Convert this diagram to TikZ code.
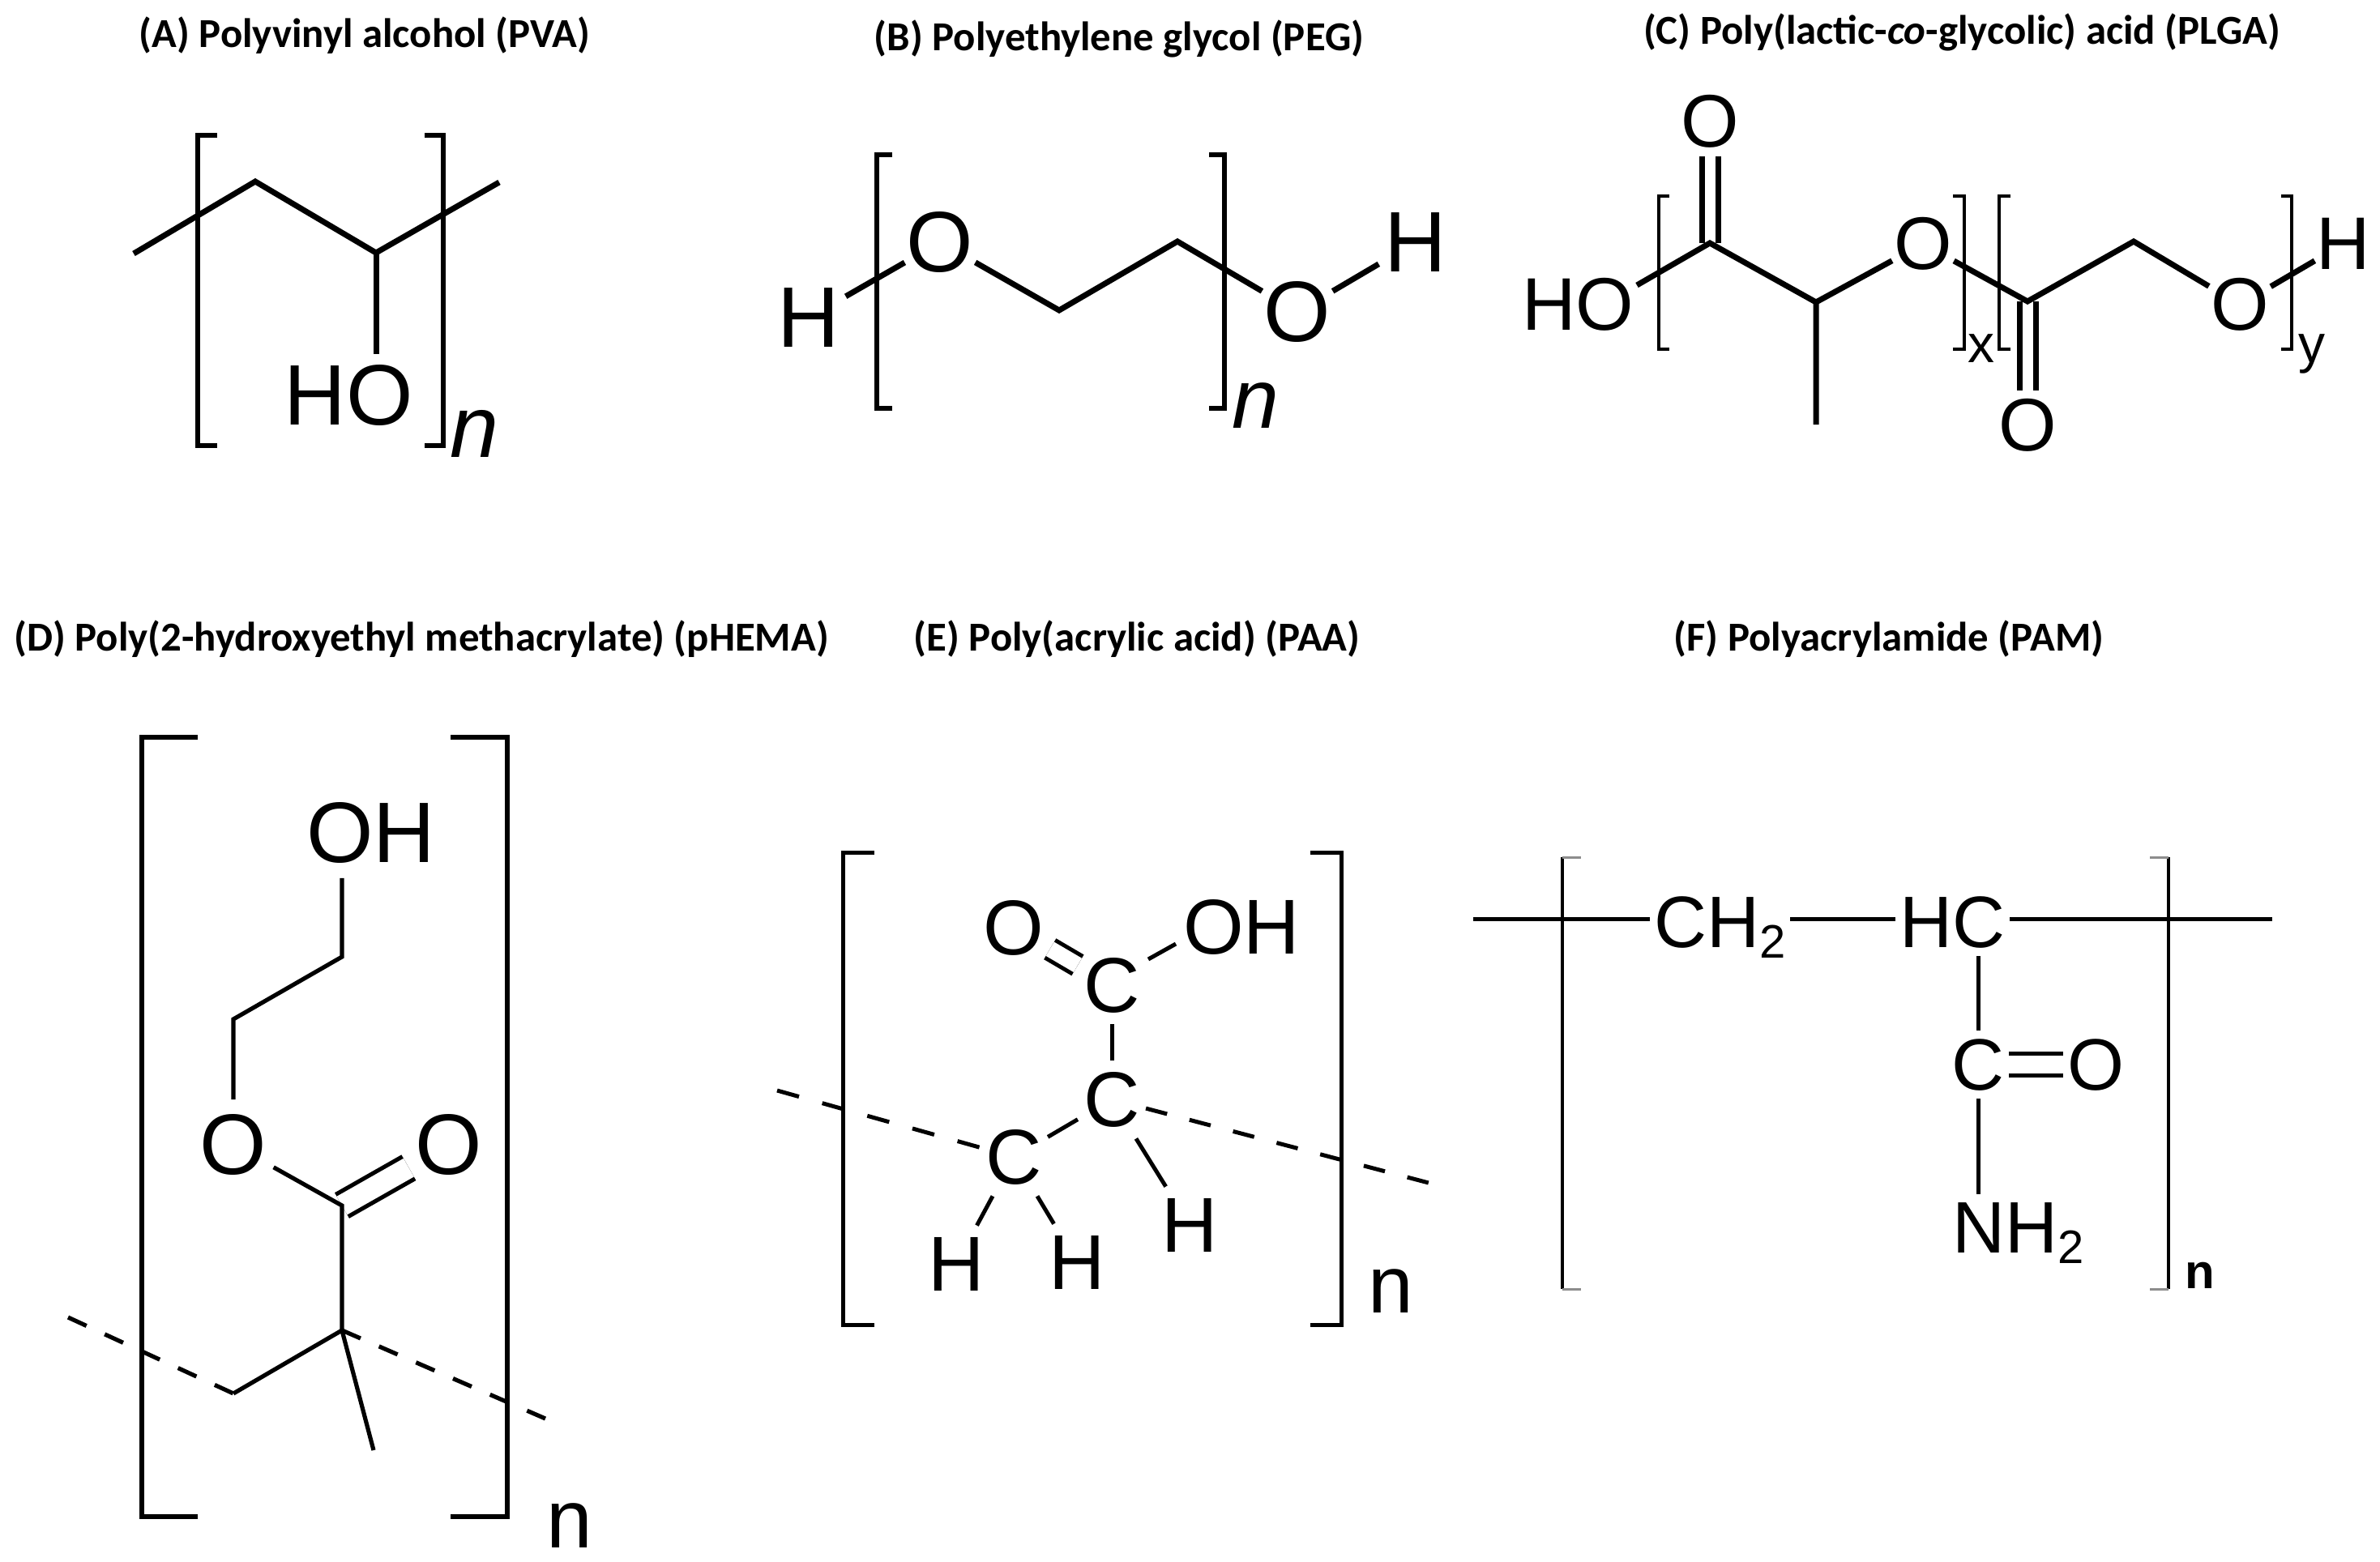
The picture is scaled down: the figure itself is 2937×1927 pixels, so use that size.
\documentclass[tikz,border=0pt]{standalone}
\usepackage{fontspec}
\setmainfont{Liberation Sans}
\newfontfamily\ttlfont{Carlito}
\newcommand{\subnum}[1]{\raisebox{-6.5pt}{\fontsize{29}{29}\selectfont #1}}

\begin{document}
\begin{tikzpicture}[x=0.5pt,y=-0.5pt,
  ttl/.style={inner sep=0pt,font=\ttlfont\bfseries\fontsize{25.4}{25.4}\selectfont},
  bond/.style={line width=3.5pt},
  dbl/.style={bond,double,double distance=6.5pt},
  brk/.style={line width=3pt},
  dash bond/.style={bond,dash pattern=on 12.5pt off 12.4pt},
  atom/.style={inner xsep=1pt,inner ysep=5pt},
  idx/.style={inner sep=0pt,anchor=base}]
\useasboundingbox (0,0) rectangle (2937,1927);

% The six headings
\node[ttl] (ttlA) at (450,44) {(A) Polyvinyl alcohol (PVA)};
\node[ttl] (ttlB) at (1381,48) {(B) Polyethylene glycol (PEG)};
\node[ttl] (ttlC) at (2421,40) {(C) Poly(lactic-\textit{co}-glycolic) acid (PLGA)};
\node[ttl] (ttlD) at (520,789) {(D) Poly(2-hydroxyethyl methacrylate) (pHEMA)};
\node[ttl] (ttlE) at (1403,789) {(E) Poly(acrylic acid) (PAA)};
\node[ttl] (ttlF) at (2331,789) {(F) Polyacrylamide (PAM)};

% PVA
\begin{scope}[atom/.append style={font=\fontsize{53}{53}\selectfont}]
\draw[brk] (268,167) -- (244,167) -- (244,550) -- (268,550);
\draw[brk] (524,167) -- (547,167) -- (547,550) -- (524,550);
\coordinate (a1) at (165,313);
\coordinate (a2) at (315,224);
\coordinate (a3) at (464,312);
\coordinate (a4) at (616,225);
\node[atom,inner ysep=6.5pt] (HOa) at (430,488) {HO};
\draw[bond] (a1) -- (a2) -- (a3) -- (a4);
\draw[bond] (a3) -- (a3 |- HOa.north);
\node[idx,font=\itshape\fontsize{54}{54}\selectfont] (na) at (586,564) {n};
\end{scope}

% PEG
\begin{scope}[atom/.append style={font=\fontsize{53}{53}\selectfont}]
\draw[brk] (1101,191) -- (1082,191) -- (1082,504) -- (1101,504);
\draw[brk] (1492,191) -- (1511,191) -- (1511,504) -- (1492,504);
\coordinate (b1) at (1307,383);
\coordinate (b2) at (1453,298);
\node[atom,inner xsep=3.5pt] (Hb1) at (998,392) {H};
\node[atom] (Ob1) at (1160,299) {O};
\node[atom] (Ob2) at (1601,385) {O};
\node[atom,inner xsep=3.5pt] (Hb2) at (1747,299) {H};
\draw[bond] (Hb1) -- (Ob1);
\draw[bond] (Ob1) -- (b1) -- (b2) -- (Ob2);
\draw[bond] (Ob2) -- (Hb2);
\node[idx,font=\itshape\fontsize{52}{52}\selectfont] (nb) at (1549,528) {n};
\end{scope}

% PLGA
\begin{scope}[atom/.append style={font=\fontsize{46}{46}\selectfont,inner xsep=1pt}]
\draw[brk,line width=2pt] (2060,242) -- (2047,242) -- (2047,431) -- (2060,431);
\draw[brk,line width=2pt] (2410,242) -- (2424,242) -- (2424,431) -- (2410,431);
\draw[brk,line width=2pt] (2481,242) -- (2467,242) -- (2467,431) -- (2481,431);
\draw[brk,line width=2pt] (2815,242) -- (2828,242) -- (2828,431) -- (2815,431);
\coordinate (c1) at (2110,300);
\coordinate (c2) at (2241,373);
\coordinate (c3) at (2241,524);
\coordinate (c4) at (2502,372);
\coordinate (c5) at (2633,298);
\coordinate (c6) at (2020,352);
\node[atom] (Oc1) at (2110,150) {O};
\node[atom] (HOc) at (1947,376) {HO};
\node[atom] (Oc2) at (2373,301) {O};
\node[atom] (Oc3) at (2764,376) {O};
\node[atom] (Oc4) at (2502,525) {O};
\node[atom] (Hc) at (2892,301) {H};
\draw[dbl] (Oc1) -- (c1);
\draw[dbl] (c4) -- (Oc4);
\draw[bond] (c6) -- (c1) -- (c2) -- (c3);
\draw[bond] (c2) -- (Oc2);
\draw[bond] (Oc2) -- (c4) -- (c5) -- (Oc3);
\draw[bond] (Oc3) -- (Hc);
\node[idx,font=\fontsize{33}{33}\selectfont] (xc) at (2445,447) {x};
\node[idx,font=\fontsize{33}{33}\selectfont] (yc) at (2853,447) {y};
\end{scope}

% pHEMA
\begin{scope}[bond/.append style={line width=2.6pt},
  dbl/.append style={line width=2.6pt,double distance=13pt},
  atom/.append style={font=\fontsize{53}{53}\selectfont,inner xsep=4pt,inner ysep=9pt}]
\draw[brk,line width=2.6pt] (244,910) -- (175,910) -- (175,1872) -- (244,1872);
\draw[brk,line width=2.6pt] (556,910) -- (626,910) -- (626,1872) -- (556,1872);
\coordinate (d2) at (422,1181);
\coordinate (d3) at (288,1258);
\coordinate (d5) at (422,1488);
\coordinate (d6) at (422,1642);
\coordinate (d7) at (288,1720);
\coordinate (d8) at (461,1790);
\coordinate (d9) at (84,1626);
\coordinate (d10) at (673,1751);
\node[atom] (OHd) at (458,1028) {OH};
\node[atom] (Od1) at (288,1413) {O};
\node[atom] (Od2) at (554,1413) {O};
\draw[dbl] (d5) -- (Od2);
\draw[bond] (d2 |- OHd.south) -- (d2) -- (d3) -- (d3 |- Od1.north);
\draw[bond] (Od1) -- (d5) -- (d6);
\draw[bond] (d7) -- (d6) -- (d8);
\draw[bond,dash bond] (d9) -- (d7);
\draw[bond,dash bond] (d6) -- (d10);
\node[idx,font=\fontsize{51}{51}\selectfont] (nd) at (703,1910) {n};
\end{scope}

% PAA
\begin{scope}[bond/.append style={line width=2.5pt},
  dbl/.append style={line width=2.5pt,double distance=10pt},
  atom/.append style={font=\fontsize{48}{48}\selectfont,inner xsep=3.5pt,inner ysep=7pt}]
\draw[brk,line width=2.5pt] (1079,1052) -- (1040,1052) -- (1040,1635) -- (1079,1635);
\draw[brk,line width=2.5pt] (1617,1052) -- (1655,1052) -- (1655,1635) -- (1617,1635);
\coordinate (e1) at (959,1346);
\coordinate (e2) at (1763,1460);
\coordinate (e3) at (1417,1184);
\coordinate (e4) at (1451,1165);
\node[atom] (Oe) at (1251,1145) {O};
\node[atom] (OHe) at (1532,1144) {OH};
\node[atom] (Ce1) at (1372,1216) {C};
\node[atom] (Ce2) at (1372,1357) {C};
\node[atom] (Ce3) at (1251,1428) {C};
\node[atom] (He1) at (1180,1560) {H};
\node[atom] (He2) at (1329,1558) {H};
\node[atom] (He3) at (1468,1512) {H};
\draw[dbl] (Oe) -- (Ce1);
\draw[bond] (e3) -- (e4);
\draw[bond] (Ce1) -- (Ce2);
\draw[bond] (Ce2) -- (Ce3);
\draw[bond] (Ce3) -- (He1);
\draw[bond] (Ce3) -- (He2);
\draw[bond] (Ce2) -- (He3);
\draw[bond,dash bond,dash pattern=on 14pt off 14.9pt] (e1) -- (Ce3);
\draw[bond,dash bond,dash pattern=on 13.5pt off 14.3pt] (Ce2) -- (e2);
\node[idx,font=\fontsize{50}{50}\selectfont] (ne) at (1716,1620) {n};
\end{scope}

% PAM
\begin{scope}[bond/.append style={line width=2.5pt},
  dbl/.append style={line width=2.5pt,double distance=11pt},
  atom/.append style={font=\fontsize{45}{45}\selectfont,inner xsep=2.5pt,inner ysep=5pt}]
\draw[brk,line width=2.2pt] (1928,1058) -- (1928,1591);
\draw[brk,line width=2.2pt] (2676,1058) -- (2676,1591);
\draw[brk,line width=1.5pt,black!45] (1928,1058) -- (1951,1058);
\draw[brk,line width=1.5pt,black!45] (1928,1591) -- (1951,1591);
\draw[brk,line width=1.5pt,black!45] (2653,1058) -- (2676,1058);
\draw[brk,line width=1.5pt,black!45] (2653,1591) -- (2676,1591);
\coordinate (f1) at (1818,1134);
\coordinate (f2) at (2804,1134);
\node[atom,anchor=base west] (CHf) at (2036,1169) {CH\subnum{2}};
\node[atom,anchor=base west] (HCf) at (2339,1169) {HC};
\node[atom] (Cf) at (2441,1314) {C};
\node[atom] (Of) at (2586,1314) {O};
\node[atom,anchor=base west] (NHf) at (2404,1546) {NH\subnum{2}};
\draw[bond] (f1) -- (CHf.west |- f1);
\draw[bond] (CHf.east |- f1) -- (HCf.west |- f1);
\draw[bond] (HCf.east |- f1) -- (f2);
\draw[bond] (Cf |- HCf.south) -- (Cf);
\draw[dbl] (Cf) -- (Of);
\draw[bond] (Cf) -- (Cf |- NHf.north);
\node[idx,font=\bfseries\fontsize{30}{30}\selectfont] (nf) at (2715,1590) {n};
\end{scope}
\end{tikzpicture}
\end{document}
